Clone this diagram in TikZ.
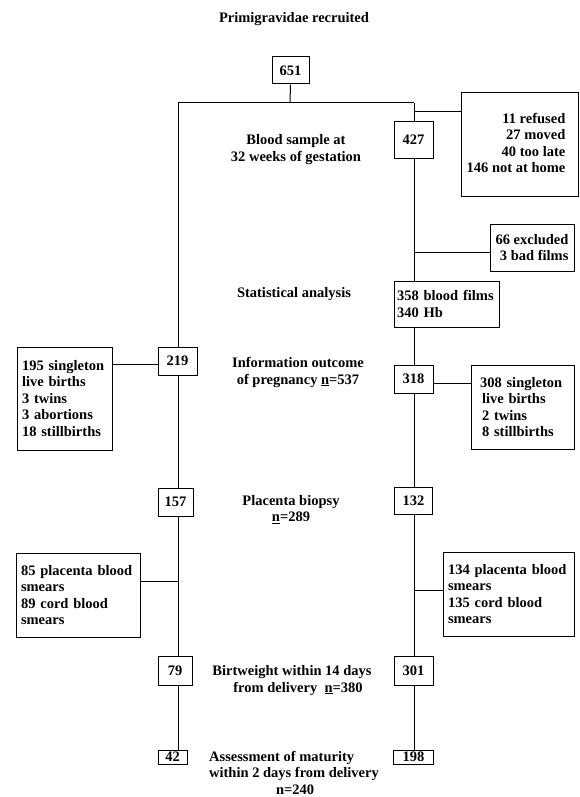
\documentclass[tikz,border=0pt]{standalone}
\usepackage{fontspec}
\setmainfont{Liberation Serif}
\begin{document}
\begin{tikzpicture}[x=1pt,y=-1pt,
  font=\bfseries\fontsize{14.5}{16.5}\selectfont,
  line width=1pt,
  numbox/.style={draw, inner sep=0pt, text height=9.5pt, text depth=0pt},
  listbox/.style={draw, inner xsep=5pt, inner ysep=0pt, align=left},
  txt/.style={align=center, inner sep=0pt}]
\useasboundingbox (0,0) rectangle (580,797);

% texts
\node[txt] (title) at (294,19) {Primigravidae recruited};
\node[txt] (blood) at (296,149.5) {Blood sample at\\32 weeks of gestation};
\node[txt] (stat) at (294,294) {Statistical analysis};
\node[txt] (info) at (298,372.5) {Information outcome\\of pregnancy \underline{n}=537};
\node[txt] (placenta) at (291,509.5) {Placenta biopsy\\\underline{n}=289};
\node[txt] (birt) at (292,680.5) {Birtweight within 14 days\\\hspace*{12pt}from delivery\enspace\underline{n}=380};
\node[align=left, inner sep=0pt] (assess) at (294,772.5) {Assessment of maturity\\within 2 days from delivery\\\hspace*{67pt}n=240};

% boxes
\node[numbox, minimum width=37pt, minimum height=27pt] (n651) at (290.5,70.5) {651};
\node[numbox, minimum width=39pt, minimum height=36pt] (n427) at (413.5,140) {427};
\node[draw, inner sep=0pt, minimum width=117pt, minimum height=103pt] (refused) at (519.5,144.5)
  {\begin{tabular}{@{}r@{\hspace{7pt}}}11 refused\\27 moved\\40 too late\\146 not at home\end{tabular}};
\node[draw, inner sep=0pt, align=right, minimum width=84pt, minimum height=47pt] (excl) at (532,247.5)
  {66 excluded\\3 bad films};
\node[listbox, inner xsep=3pt, text width=99pt, minimum height=46pt] (n358) at (446.5,304) {358 blood films\\340 Hb};
\node[numbox, minimum width=39pt, minimum height=28pt] (n219) at (177.5,361) {219};
\node[listbox, text width=85pt, minimum height=103pt] (n195) at (64.5,398.5)
  {195 singleton\\live births\\3 twins\\3 abortions\\18 stillbirths};
\node[numbox, minimum width=39pt, minimum height=28pt] (n318) at (413.5,379) {318};
\node[listbox, inner xsep=9pt, text width=85pt, minimum height=84pt] (n308) at (522.5,407)
  {308 singleton\\\hspace*{2pt}live births\\\hspace*{2pt}2 twins\\\hspace*{2pt}8 stillbirths};
\node[numbox, minimum width=35pt, minimum height=28pt] (n157) at (175.5,502) {157};
\node[numbox, minimum width=38pt, minimum height=27pt] (n132) at (413.5,500.5) {132};
\node[listbox, text width=114pt, minimum height=84pt] (n85) at (78,595)
  {85 placenta blood\\smears\\89 cord blood\\smears};
\node[listbox, text width=121pt, minimum height=84pt] (n134) at (508.5,594)
  {134 placenta blood\\smears\\135 cord blood\\smears};
\node[numbox, minimum width=34pt, minimum height=29pt] (n79) at (175,670.5) {79};
\node[numbox, minimum width=39pt, minimum height=29pt] (n301) at (413.5,670.5) {301};
\node[numbox, minimum width=29pt, minimum height=14pt] (n42) at (172.5,757) {42};
\node[numbox, minimum width=40pt, minimum height=14pt] (n198) at (413.5,757) {198};

% junctions
\coordinate (jt) at (290,103);
\coordinate (jl) at (178,103);
\coordinate (jr) at (414,103);
\coordinate (cr1) at (414,112);
\coordinate (ce) at (414,252);
\coordinate (c195) at (178,364);
\coordinate (c308) at (414,383);
\coordinate (c85) at (178,581);
\coordinate (c134) at (414,590);

% connectors
\draw (n651.south) -- (jt);
\draw (jl) -- (jr);
\draw (jl) -- (jl |- n219.north);
\draw (jr) -- (jr |- n427.north);
\draw (cr1) -- (cr1 -| refused.west);
\draw (jr |- n427.south) -- (jr |- n358.north);
\draw (ce) -- (ce -| excl.west);
\draw (jr |- n358.south) -- (jr |- n318.north);
\draw (c308 -| n318.east) -- (c308 -| n308.west);
\draw (jr |- n318.south) -- (jr |- n132.north);
\draw (c134) -- (c134 -| n134.west);
\draw (jr |- n132.south) -- (jr |- n301.north);
\draw (jr |- n301.south) -- (jr |- n198.north);
\draw (c195 -| n195.east) -- (c195 -| n219.west);
\draw (jl |- n219.south) -- (jl |- n157.north);
\draw (c85 -| n85.east) -- (c85);
\draw (jl |- n157.south) -- (jl |- n79.north);
\draw (jl |- n79.south) -- (jl |- n42.north);
\end{tikzpicture}
\end{document}
